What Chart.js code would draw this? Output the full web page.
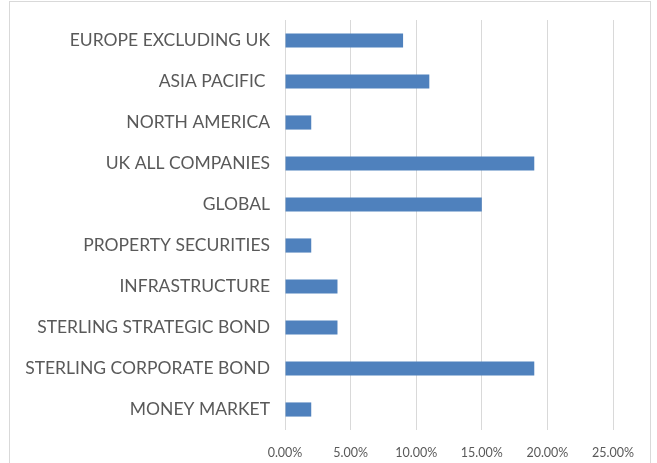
<!DOCTYPE html>
<html>
<head>
<meta charset="utf-8">
<script src="https://cdn.jsdelivr.net/npm/chart.js@4/dist/chart.umd.min.js"></script>
<style>
  html, body { margin: 0; padding: 0; background: #fff; }
  #wrap { position: relative; width: 657px; height: 463px; overflow: hidden; }
  #frame { position: absolute; left: 9px; top: 1px; width: 642px; height: 470px; border: 1px solid #d9d9d9; box-sizing: border-box; }
  #chart { position: absolute; left: 0; top: 0; }
</style>
</head>
<body>
<div id="wrap">
  <div id="frame"></div>
  <canvas id="chart" width="657" height="463"></canvas>
</div>
<script>
const categories = [
  'EUROPE EXCLUDING UK',
  'ASIA PACIFIC ',
  'NORTH AMERICA',
  'UK ALL COMPANIES',
  'GLOBAL',
  'PROPERTY SECURITIES',
  'INFRASTRUCTURE',
  'STERLING STRATEGIC BOND',
  'STERLING CORPORATE BOND',
  'MONEY MARKET'
];
const allocation = [9, 11, 2, 19, 15, 2, 4, 4, 19, 2];
const xMin = 0;
const xMax = 25;
const xStep = 5;

const ctx = document.getElementById('chart').getContext('2d');
const chart = new Chart(ctx, {
  type: 'bar',
  data: {
    labels: categories,
    datasets: [{
      data: allocation,
      backgroundColor: '#4f81bd',
      borderWidth: 0,
      categoryPercentage: 0.5,
      barPercentage: 0.69
    }]
  },
  options: {
    indexAxis: 'y',
    responsive: false,
    animation: false,
    layout: { padding: { top: 20, right: 44, bottom: 0, left: 0 } },
    plugins: {
      legend: { display: false },
      tooltip: { enabled: false }
    },
    scales: {
      x: {
        min: xMin,
        max: xMax,
        afterFit: s => { s.height = 33; s.paddingTop = 0; },
        ticks: {
          stepSize: xStep,
          padding: 15,
          color: '#595959',
          font: { family: 'Lato', size: 12.5 },
          callback: v => v.toFixed(2) + '%'
        },
        grid: { color: '#d9d9d9', drawTicks: false },
        border: { display: false }
      },
      y: {
        afterFit: s => { s.width = 285; s.paddingTop = 0; s.paddingBottom = 0; },
        ticks: {
          padding: 15,
          color: '#595959',
          font: { family: 'Lato', size: 17.5 }
        },
        grid: { display: false, drawTicks: false },
        border: { display: false }
      }
    }
  }
});
</script>
</body>
</html>
